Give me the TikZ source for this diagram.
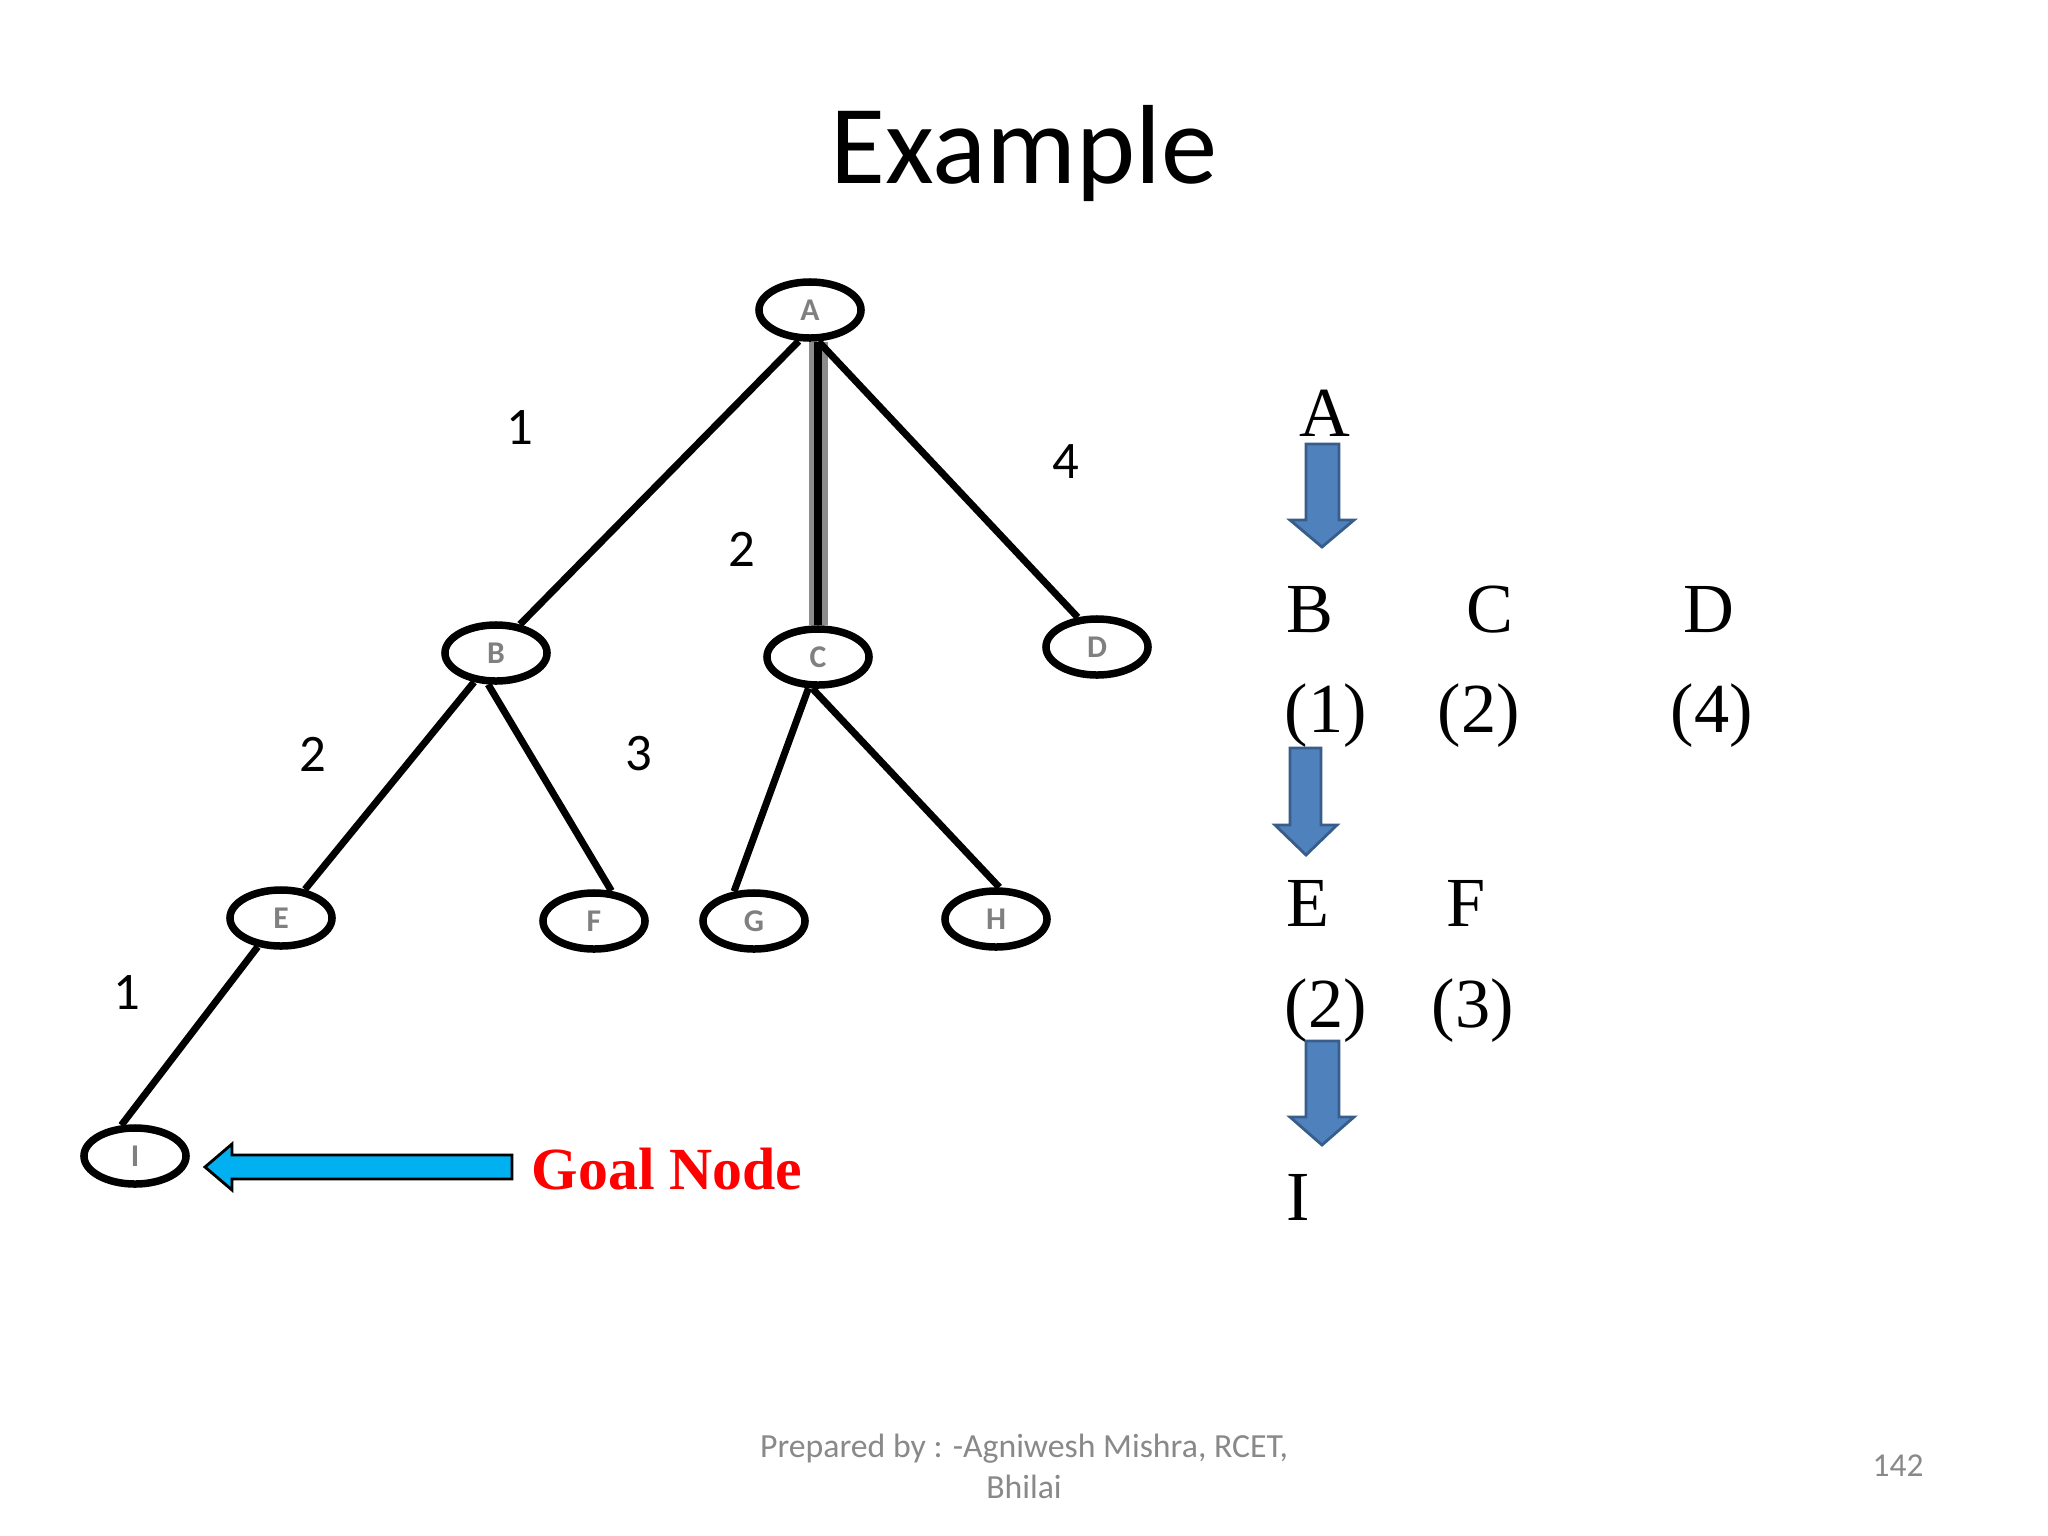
\documentclass[tikz,border=0pt]{standalone}
\usepackage{fontspec}
\setmainfont{Liberation Serif}
\newfontfamily\calibri{Carlito}
\usetikzlibrary{shapes.geometric}
\definecolor{goalblue}{RGB}{0,176,240}
\definecolor{stepfill}{RGB}{79,129,189}
\definecolor{stepline}{RGB}{56,93,138}
\definecolor{footgray}{RGB}{137,137,137}
\definecolor{goalred}{RGB}{255,0,0}
\begin{document}
\begin{tikzpicture}[x=0.01cm,y=-0.01cm,
  tnode/.style={ellipse,draw=black,line width=0.075cm,minimum width=1.02cm,minimum height=0.56cm,inner sep=0pt,font=\fontsize{9}{10}\calibri\bfseries,text=black!50},
  tedge/.style={line width=0.07cm},
  elabel/.style={font=\fontsize{15}{18}\calibri,inner sep=0pt},
  rtext/.style={anchor=base west,font=\fontsize{20}{24}\selectfont,inner sep=0pt},
  downarrow/.style={fill=stepfill,draw=stepline,line width=0.8pt,line join=miter},
  goalarrow/.style={fill=goalblue,draw=black,line width=0.8pt,line join=miter}]
\useasboundingbox (0,0) rectangle (2048,1536);
\fill[white] (0,0) rectangle (2048,1536);

% title
\node[anchor=base,font=\fontsize{32}{38}\calibri,inner sep=0pt] (title) at (1024,183) {Example};

% tree nodes
\node[tnode] (A) at (810,310) {A};
\node[tnode] (B) at (496,653) {B};
\node[tnode] (C) at (818,657) {C};
\node[tnode] (D) at (1097,647) {D};
\node[tnode] (E) at (281,918) {E};
\node[tnode] (F) at (594,921) {F};
\node[tnode] (G) at (754,921) {G};
\node[tnode] (H) at (996,919) {H};
\node[tnode] (I) at (135,1156) {I};

% edges
\draw[tedge] (A.-110) -- (B.50);
\draw[line width=0.19cm,black!45] (A.south -| C.north) -- (C.north);
\draw[line width=0.075cm] (A.south -| C.north) -- (C.north);
\draw[tedge] (A.-75) -- (D.123);
\draw[tedge] (B.-127) -- (E.50);
\draw[tedge] (B.-104) -- (F.60);
\draw[tedge] (C.-107) -- (G.124);
\draw[tedge] (C.-100) -- (H.84);
\draw[tedge] (E.-129) -- (I.114);

% edge labels
\node[elabel] (l1) at (520,428) {1};
\node[elabel] (l2) at (742,549) {2};
\node[elabel] (l4) at (1066,462) {4};
\node[elabel] (l5) at (313,754) {2};
\node[elabel] (l3) at (639,754) {3};
\node[elabel] (l6) at (127,993) {1};

% goal arrow and text
\draw[goalarrow] (205,1167) -- (232,1144) -- (232,1155) -- (512,1155) -- (512,1179) -- (232,1179) -- (232,1190) -- cycle;
\node[anchor=base west,font=\fontsize{17}{21}\selectfont\bfseries,text=goalred,inner sep=0pt] (goal) at (531,1189) {Goal Node};

% right column
\node[rtext] (rA) at (1299,436) {A};
\node[rtext] (rB) at (1286,632) {B};
\node[rtext] (rC) at (1466,632) {C};
\node[rtext] (rD) at (1683,632) {D};
\node[rtext] (r1) at (1284,732) {(1)};
\node[rtext] (r2) at (1437,732) {(2)};
\node[rtext] (r4) at (1670,732) {(4)};
\node[rtext] (rE) at (1286,926) {E};
\node[rtext] (rF) at (1446,926) {F};
\node[rtext] (r2b) at (1284,1027) {(2)};
\node[rtext] (r3) at (1431,1027) {(3)};
\node[rtext] (rI) at (1286,1220) {I};

% blue down arrows
\draw[downarrow] (1306,444) -- (1339,444) -- (1339,520) -- (1354,520) -- (1322,547) -- (1290,520) -- (1306,520) -- cycle;
\draw[downarrow] (1290,748) -- (1321,748) -- (1321,825) -- (1337,825) -- (1306,855) -- (1275,825) -- (1290,825) -- cycle;
\draw[downarrow] (1306,1041) -- (1339,1041) -- (1339,1117) -- (1354,1117) -- (1322,1145) -- (1290,1117) -- (1306,1117) -- cycle;

% footer
\node[font=\fontsize{9.6}{11.6}\calibri,text=footgray,align=center,inner sep=0pt] (foot) at (1024,1466) {Prepared by : -Agniwesh Mishra, RCET,\\Bhilai};
\node[font=\fontsize{9.5}{11}\calibri,text=footgray,inner sep=0pt] (page) at (1898,1466) {142};
\end{tikzpicture}
\end{document}
